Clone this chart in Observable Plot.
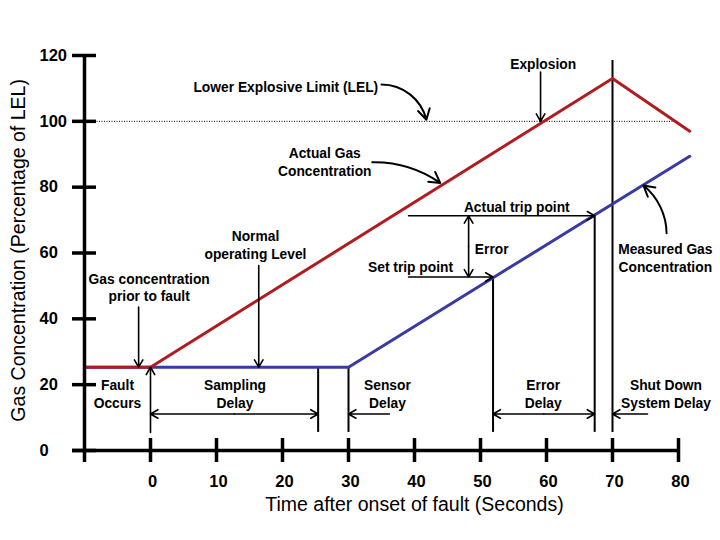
<!DOCTYPE html>
<html>
<head>
<meta charset="utf-8">
<script src="https://cdn.jsdelivr.net/npm/d3@7"></script>
<script src="https://cdn.jsdelivr.net/npm/@observablehq/plot@0.6"></script>
<style>
  html, body { margin: 0; padding: 0; background: #fff; }
  svg { display: block; }
</style>
</head>
<body>
<div id="chart"></div>
<script>
// ---- data ----
const actualT = [-10, 0, 70, 81.7];
const actualV = [25.3, 25.3, 113, 97];
const measuredT = [-10, 30, 81.7];
const measuredV = [25.3, 25.3, 89.4];
const lelLevel = 100;

const xTicks = [0, 10, 20, 30, 40, 50, 60, 70, 80];
const yTicks = [0, 20, 40, 60, 80, 100, 120];

const noteText = ["Explosion", "Lower Explosive Limit (LEL)", "Actual Gas\nConcentration",
  "Actual trip point", "Normal\noperating Level", "Error", "Set trip point",
  "Measured Gas\nConcentration", "Gas concentration\nprior to fault", "Fault\nOccurs",
  "Sampling\nDelay", "Sensor\nDelay", "Error\nDelay", "Shut Down\nSystem Delay"];
const noteX = [59.5, 20.5, 26.4, 55.5, 15.9, 51.7, 39.4, 78.0, -0.2, -5.0, 12.8, 35.9, 59.5, 78.1];
const noteY = [117.6, 110.6, 87.9, 74.2, 62.6, 61.3, 56.0, 58.7, 49.7, 17.4, 17.4, 17.4, 17.4, 17.4];

// single-headed straight arrows
const arrX1 = [59.1, -1.8, 16.4, 0, 39.1, 39.1, 36.2, 75.3];
const arrY1 = [115, 43.6, 56.2, 5.5, 52.7, 71.3, 11.1, 11.1];
const arrX2 = [59.1, -1.8, 16.4, 0, 51.9, 67.3, 30, 70];
const arrY2 = [100, 25.3, 25.3, 25.3, 52.7, 71.3, 11.1, 11.1];

// double-headed arrows (between two ends)
const dblX1 = [48.2, 0, 51.9];
const dblY1 = [71.3, 11.1, 11.1];
const dblX2 = [48.2, 25.4, 67.3];
const dblY2 = [52.7, 11.1, 11.1];

// curved arrows
const crvX1 = [35.0, 33.6, 78.2];
const crvY1 = [111.2, 87.6, 66];
const crvX2 = [41.8, 43.9, 74.7];
const crvY2 = [100.5, 81.3, 80.5];
const crvBend = [38, 18, -25];

// vertical marker lines
const vX = [25.4, 30, 51.9, 67.3, 70];
const vTop = [25.3, 25.3, 52.7, 71.3, 118.5];
const vBottom = 5.5;

// ---- build ----
const zip = (a, b) => a.map((d, i) => ({x: d, y: b[i]}));
const notes = noteText.map((t, i) => ({t, x: noteX[i], y: noteY[i]}));
const arrows = arrX1.map((d, i) => ({x1: d, y1: arrY1[i], x2: arrX2[i], y2: arrY2[i]}));
const dbl = [];
dblX1.forEach((d, i) => {
  const mx = (d + dblX2[i]) / 2, my = (dblY1[i] + dblY2[i]) / 2;
  dbl.push({x1: mx, y1: my, x2: d, y2: dblY1[i]});
  dbl.push({x1: mx, y1: my, x2: dblX2[i], y2: dblY2[i]});
});
const curves = crvX1.map((d, i) => ({x1: d, y1: crvY1[i], x2: crvX2[i], y2: crvY2[i], bend: crvBend[i]}));
const vlines = vX.map((d, i) => ({x: d, top: vTop[i]}));

const font = "'Liberation Sans', Arial, Helvetica, sans-serif";
const red = "#b01c22";
const blue = "#3a3aa2";

const chart = Plot.plot({
  width: 720,
  height: 540,
  marginLeft: 84,
  marginRight: 42,
  marginTop: 55,
  marginBottom: 90,
  x: {domain: [-10, 80], axis: null},
  y: {domain: [0, 120], axis: null},
  style: {fontFamily: font, background: "#fff", overflow: "visible"},
  marks: [
    // LEL dotted line
    Plot.ruleY([lelLevel], {x1: -10, x2: 80, stroke: "#000", strokeWidth: 1, strokeDasharray: "1,1.5"}),
    // vertical marker lines
    Plot.ruleX(vlines, {x: "x", y1: "top", y2: vBottom, stroke: "#000", strokeWidth: 2}),
    // data lines
    Plot.line(zip(measuredT, measuredV), {x: "x", y: "y", stroke: blue, strokeWidth: 3}),
    Plot.line(zip(actualT, actualV), {x: "x", y: "y", stroke: red, strokeWidth: 3}),
    // axes
    Plot.ruleY([0], {x1: -10, x2: 80, insetLeft: -12, stroke: "#000", strokeWidth: 3.5}),
    Plot.ruleX([-10], {y1: 120, y2: 0, insetBottom: -12, stroke: "#000", strokeWidth: 3.5}),
    Plot.ruleX(xTicks, {x: d => d, y1: 0, y2: 0, insetTop: -12, insetBottom: -12, stroke: "#000", strokeWidth: 3.5}),
    Plot.ruleY(yTicks, {y: d => d, x1: -10, x2: -10, insetLeft: -12, insetRight: -12, stroke: "#000", strokeWidth: 3.5}),
    Plot.text(xTicks, {x: d => d, y: 0, dy: 31, dx: 2, text: d => String(d), fontSize: 16.5, fontWeight: "bold", fill: "#000"}),
    Plot.text(yTicks, {x: -10, y: d => d, dx: -45, textAnchor: "start", text: d => String(d), fontSize: 16.5, fontWeight: "bold", fill: "#000"}),
    Plot.text(["Time after onset of fault (Seconds)"], {x: 40, y: 0, dy: 54, text: d => d, fontSize: 19.5, fill: "#000"}),
    Plot.text(["Gas Concentration (Percentage of LEL)"], {x: -10, y: 60.8, dx: -66, rotate: -90, text: d => d, fontSize: 19.5, fill: "#000"}),
    // annotation arrows
    Plot.arrow(arrows, {x1: "x1", y1: "y1", x2: "x2", y2: "y2", stroke: "#000", strokeWidth: 1.6, headLength: 8}),
    Plot.arrow(dbl, {x1: "x1", y1: "y1", x2: "x2", y2: "y2", stroke: "#000", strokeWidth: 1.6, headLength: 8}),
    ...curves.map(c => Plot.arrow([c], {x1: "x1", y1: "y1", x2: "x2", y2: "y2", bend: c.bend, stroke: "#000", strokeWidth: 2, headLength: 9})),
    // annotation text
    Plot.text(notes, {x: "x", y: "y", text: "t", fontSize: 13.8, fontWeight: "bold", lineHeight: 1.28, fill: "#000"})
  ]
});
document.getElementById("chart").appendChild(chart);
</script>
</body>
</html>
